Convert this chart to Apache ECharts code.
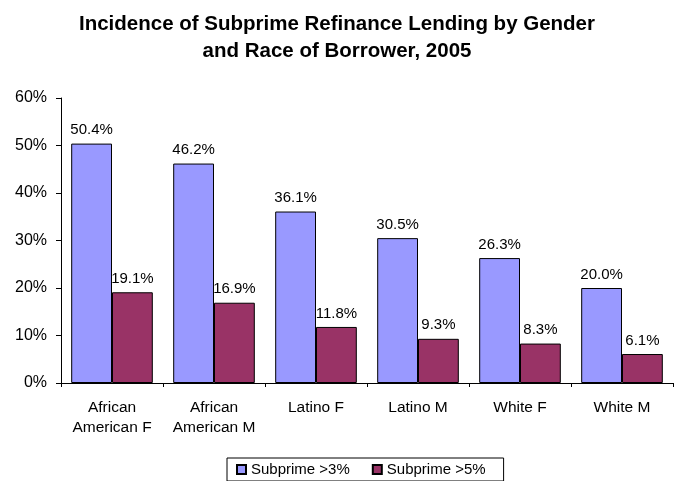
<!DOCTYPE html>
<html>
<head>
<meta charset="utf-8">
<script src="https://cdn.jsdelivr.net/npm/echarts@6/dist/echarts.min.js"></script>
<style>
html, body { margin:0; padding:0; background:#fff; }
#chart { width:674px; height:481px; }
</style>
</head>
<body>
<div id="chart"></div>
<script>
var categories = ['African\nAmerican F', 'African\nAmerican M', 'Latino F', 'Latino M', 'White F', 'White M'];
var sub3 = [50.4, 46.2, 36.1, 30.5, 26.3, 20.0];
var sub5 = [19.1, 16.9, 11.8, 9.3, 8.3, 6.1];
var seriesNames = ['Subprime >3%', 'Subprime >5%'];

var myChart = echarts.init(document.getElementById('chart'));
var font = 'Liberation Sans, Arial, sans-serif';
var labelOpt = {
    show: true,
    position: 'top',
    distance: 6,
    color: '#000',
    fontFamily: font,
    fontSize: 15,
    formatter: function(p){ return p.value.toFixed(1) + '%'; }
};
var option = {
    animation: false,
    title: {
        text: 'Incidence of Subprime Refinance Lending by Gender\nand Race of Borrower, 2005',
        left: 'center',
        top: 6,
        textStyle: { fontFamily: font, fontSize: 20.5, fontWeight: 'bold', color: '#000', lineHeight: 27 }
    },
    legend: {
        data: seriesNames,
        icon: 'rect',
        bottom: 0,
        left: 227,
        itemWidth: 9,
        itemHeight: 9,
        itemGap: 22,
        padding: [4, 18, 4, 9],
        borderColor: '#000',
        borderWidth: 1,
        textStyle: { fontFamily: font, fontSize: 15, color: '#000' }
    },
    grid: { left: 61, right: 1, top: 98, bottom: 98, containLabel: false },
    xAxis: {
        type: 'category',
        data: categories,
        axisLine: { lineStyle: { color: '#000' } },
        axisTick: { show: true, alignWithLabel: false, length: 4, lineStyle: { color: '#000' } },
        axisLabel: { interval: 0, color: '#000', fontFamily: font, fontSize: 15.5, margin: 15, lineHeight: 20 }
    },
    yAxis: {
        type: 'value',
        min: 0,
        max: 60,
        interval: 10,
        axisLine: { show: true, lineStyle: { color: '#000' } },
        axisTick: { show: true, length: 5, lineStyle: { color: '#000' } },
        splitLine: { show: false },
        axisLabel: { color: '#000', fontFamily: font, fontSize: 16, margin: 14, formatter: '{value}%' }
    },
    series: [
        {
            name: seriesNames[0],
            type: 'bar',
            data: sub3,
            barGap: '0%',
            barCategoryGap: '20%',
            itemStyle: { color: '#9999FF', borderColor: '#000', borderWidth: 1 },
            label: labelOpt
        },
        {
            name: seriesNames[1],
            type: 'bar',
            data: sub5,
            itemStyle: { color: '#993366', borderColor: '#000', borderWidth: 1 },
            label: labelOpt
        }
    ]
};
myChart.setOption(option);
</script>
</body>
</html>
